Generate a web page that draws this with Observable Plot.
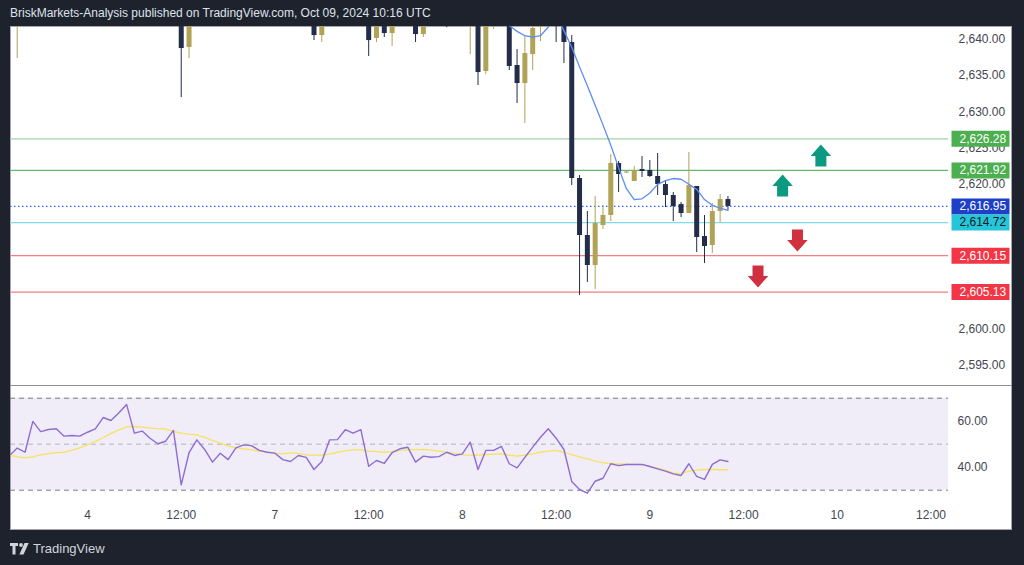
<!DOCTYPE html>
<html><head><meta charset="utf-8">
<script src="https://cdn.jsdelivr.net/npm/d3@7"></script>
<script src="https://cdn.jsdelivr.net/npm/@observablehq/plot@0.6"></script>
<style>
html,body{margin:0;padding:0;}
body{width:1024px;height:565px;background:#1e222d;position:relative;overflow:hidden;font-family:"Liberation Sans",Arial,sans-serif;}
#hdr{position:absolute;left:10px;top:6px;color:#dfe2ea;font-size:12px;line-height:14px;white-space:nowrap;}
#panel{position:absolute;left:10px;top:26px;width:1002px;height:504px;background:#fff;box-sizing:border-box;border:1px solid #a4a7b0;}
#price{position:absolute;left:10px;top:26px;}
#sep{position:absolute;left:10px;top:385px;width:1002px;height:1px;background:#8a8d96;}
#rsi{position:absolute;left:10px;top:386px;}
#foot{position:absolute;left:10px;top:541px;display:flex;align-items:center;color:#d1d4dc;font-size:13px;}
svg{overflow:visible}
</style></head>
<body>
<div id="hdr">BriskMarkets-Analysis published on TradingView.com, Oct 09, 2024 10:16 UTC</div>
<div id="panel"></div>
<div id="price"></div>
<div id="sep"></div>
<div id="rsi"></div>
<div id="foot"><svg width="20" height="12" viewBox="0 0 20 12" style="margin-right:3px"><path d="M0 0h8v3H5.5v8.5h-3V3H0z" fill="#d1d4dc"/><circle cx="11" cy="2" r="1.9" fill="#d1d4dc"/><path d="M14.5 0h4.2l-5.2 11.5H9.4z" fill="#d1d4dc"/></svg><span>TradingView</span></div>
<script>
// ---- data ----
const candleT = [-9,12,13,29,30,36,37,38,39,42,43,46,49,50,51,52,53,54,55,56,57,58,59,60,61,62,63,64,65,66,67,68,69,70,71,72,73,74,75,76,77,78,79,80,81,82];
const opens  = [2643.2,2645.0,2638.87,2644.0,2640.52,2644.5,2640.11,2644.0,2640.80,2644.2,2640.66,2643.5,2643.0,2644.5,2635.56,2642.5,2642.6,2643.5,2636.39,2633.90,2637.90,2641.63,2642.0,2644.0,2643.0,2639.56,2620.80,2612.94,2608.80,2614.32,2615.70,2622.87,2621.55,2620.39,2622.04,2621.90,2621.08,2619.97,2618.46,2617.21,2615.97,2619.70,2612.80,2611.56,2616.25,2617.90];
const highs  = [2645.0,2646.0,2645.5,2645.0,2644.0,2645.0,2644.0,2644.5,2644.5,2645.0,2644.0,2644.0,2645.0,2645.0,2643.5,2644.0,2644.0,2644.0,2638.59,2640.39,2643.0,2644.0,2644.0,2645.0,2644.0,2640.52,2621.21,2616.25,2618.32,2617.08,2624.11,2623.15,2621.75,2622.46,2623.83,2623.28,2624.25,2620.52,2618.87,2617.49,2624.39,2619.70,2615.70,2617.35,2618.59,2618.32];
const lows   = [2637.35,2631.97,2637.35,2639.83,2639.56,2637.63,2639.56,2640.25,2639.01,2639.56,2640.25,2641.60,2637.90,2633.63,2635.14,2641.35,2641.63,2635.70,2631.14,2628.39,2635.70,2639.70,2641.80,2639.56,2636.66,2619.83,2604.66,2606.46,2605.49,2613.77,2614.87,2618.87,2621.50,2620.39,2620.94,2620.94,2618.46,2616.80,2614.87,2615.42,2615.97,2610.59,2609.07,2610.46,2614.73,2616.39];
const closes = [2644.5,2638.73,2644.8,2640.52,2643.0,2639.83,2643.5,2640.80,2643.8,2640.66,2643.0,2642.5,2644.0,2635.42,2643.0,2643.2,2643.4,2636.25,2633.90,2638.04,2641.49,2643.0,2643.5,2642.2,2639.56,2620.80,2612.94,2608.80,2614.59,2615.70,2622.87,2621.35,2621.70,2621.90,2621.77,2621.08,2619.97,2618.46,2616.94,2615.97,2619.83,2612.66,2611.42,2616.25,2617.90,2616.95];

const maT    = [53,54,55,56,57,58,59,60,61,62,63,64,65,66,67,68,69,70,71,72,73,74,75,76,77,78,79,80,81,82];
const maVals = [2643.5,2641.9,2641.1,2640.5,2640.3,2640.5,2641.7,2643.2,2641.2,2638.9,2636.2,2633.6,2630.9,2628.2,2625.4,2622.3,2619.4,2617.9,2618.0,2618.8,2620.0,2620.5,2620.8,2620.7,2620.0,2619.3,2617.9,2617.1,2616.7,2616.4];

const levelPrices = [2626.28, 2621.92, 2616.95, 2614.72, 2610.15, 2605.13];
const levelLine   = ["#9fd4a4", "#63bb6b", "#2962ff", "#7fdce8", "#f77c80", "#f77c80"];
const levelBox    = ["#4caf50", "#4caf50", "#1e3fc6", "#26c6da", "#f23645", "#f23645"];
const levelText   = ["#ffffff", "#ffffff", "#ffffff", "#131722", "#ffffff", "#ffffff"];
const levelDash   = [null, null, "1.5,2.5", null, null, null];

const priceTicks = [2595, 2600, 2605, 2610, 2615, 2620, 2625, 2630, 2635, 2640];

const arrowT     = [93.9, 89.0, 90.9, 85.85];
const arrowPrice = [2623.97, 2619.83, 2612.25, 2607.28];
const arrowDir   = ["up", "up", "down", "down"];

const rsiStart = -10;
const rsiVals = [45.0,48.3,46.5,59.9,55.5,56.4,56.7,53.5,53.8,53.5,55.2,56.7,61.6,60.3,63.6,67.3,54.8,55.7,52.6,50.2,51.3,56.0,32.3,46.3,51.9,47.7,42.2,46.1,43.3,48.4,49.7,49.4,47.3,46.5,46.1,43.3,42.5,45.1,44.3,39.0,42.5,51.9,52.0,56.3,54.8,56.3,40.4,42.9,41.7,46.3,48.0,48.7,42.2,44.8,44.3,44.6,46.5,45.1,45.8,50.9,39.0,47.3,47.3,49.1,41.5,39.7,44.3,48.7,53.0,56.7,52.6,47.7,33.8,30.3,28.7,33.9,35.2,41.5,40.7,41.2,41.2,41.2,40.3,39.3,38.3,37.1,36.4,41.5,36.0,34.7,41.2,43.2,42.5];
const rsiMaVals = [45.2,44.6,44.1,44.5,45.4,45.9,46.3,46.5,47.3,48.4,49.7,51.2,52.8,54.6,56.2,57.5,57.7,57.4,57.1,56.8,56.6,55.6,54.8,54.4,54.1,53.0,51.7,50.5,49.3,48.4,48.0,47.5,47.0,46.6,46.0,45.8,46.2,46.0,45.4,45.1,45.3,45.7,46.5,47.1,47.5,47.6,47.0,46.8,46.5,46.8,47.3,47.5,47.6,47.7,47.4,47.0,46.5,46.0,45.4,45.1,45.3,45.5,45.7,45.8,45.2,44.8,45.3,45.8,46.5,47.0,47.3,46.5,45.5,44.5,43.6,42.6,42.0,41.5,41.4,41.3,41.2,41.1,40.4,39.6,38.6,37.5,37.1,38.3,38.7,39.0,39.0,38.9,38.9];
const rsiBands = [30, 50, 70];
const rsiTicks = [40, 60];

const timeTicks  = [0, 12, 24, 36, 48, 60, 72, 84, 96, 108];
const timeLabels = ["4", "12:00", "7", "12:00", "8", "12:00", "9", "12:00", "10", "12:00"];

// ---- tables ----
const candles = candleT.map((t, i) => ({t, open: opens[i], high: highs[i], low: lows[i], close: closes[i]}));
const ma = maT.map((t, i) => ({t, v: maVals[i]}));
const levels = levelPrices.map((p, i) => ({p, line: levelLine[i], box: levelBox[i], txt: levelText[i], dash: levelDash[i]}));
const arrows = arrowT.map((t, i) => ({t, p: arrowPrice[i], dir: arrowDir[i]}));
const rsi = rsiVals.map((v, i) => ({t: rsiStart + i, v}));
const rsiMa = rsiMaVals.map((v, i) => ({t: rsiStart + i, v}));

const BULL = "#b0a257", BEAR = "#232d48";
const xDomain = [-9.86, 110.24];
const font = '"Liberation Sans", Arial, sans-serif';
const fmt2 = d3.format(",.2f");

const arrowUp = {draw(ctx, size) {
  const r = Math.sqrt(size / Math.PI);
  ctx.moveTo(0, -r); ctx.lineTo(0.93 * r, 0.05 * r); ctx.lineTo(0.5 * r, 0.05 * r);
  ctx.lineTo(0.5 * r, r); ctx.lineTo(-0.5 * r, r); ctx.lineTo(-0.5 * r, 0.05 * r);
  ctx.lineTo(-0.93 * r, 0.05 * r); ctx.closePath();
}};
const arrowDown = {draw(ctx, size) {
  const r = Math.sqrt(size / Math.PI);
  ctx.moveTo(0, r); ctx.lineTo(0.93 * r, -0.05 * r); ctx.lineTo(0.5 * r, -0.05 * r);
  ctx.lineTo(0.5 * r, -r); ctx.lineTo(-0.5 * r, -r); ctx.lineTo(-0.5 * r, -0.05 * r);
  ctx.lineTo(-0.93 * r, -0.05 * r); ctx.closePath();
}};
const boxSym = {draw(ctx) { ctx.rect(-29, -8, 58, 16); }};

const bull = d => d.close >= d.open;

const pricePlot = Plot.plot({
  width: 1002, height: 360,
  marginLeft: 0, marginRight: 64, marginTop: 0, marginBottom: 0,
  x: {domain: xDomain, axis: null},
  y: {domain: [2592.11, 2641.77], axis: null},
  style: {background: "transparent", fontFamily: font, fontSize: "12px", overflow: "visible"},
  marks: [
    Plot.axisY(priceTicks, {anchor: "right", label: null, tickSize: 0, tickPadding: 10, tickFormat: fmt2, color: "#434651", fontSize: 12}),
    Plot.ruleY(levels.filter(d => !d.dash), {y: "p", stroke: "line", strokeWidth: 1.2}),
    Plot.ruleY(levels.filter(d => d.dash), {y: "p", stroke: "line", strokeWidth: 1.2, strokeDasharray: "1.5,2.5"}),
    Plot.ruleX(candles, {x: "t", y1: "low", y2: "high", stroke: d => bull(d) ? BULL : BEAR, strokeWidth: 1, clip: true}),
    Plot.ruleX(candles, {x: "t", y1: "open", y2: "close", stroke: d => bull(d) ? BULL : BEAR, strokeWidth: 5, clip: true}),
    Plot.line(ma, {x: "t", y: "v", stroke: "#5b8df2", strokeWidth: 1.3, clip: true}),
    Plot.dot(arrows.filter(d => d.dir === "up"), {x: "t", y: "p", r: 11, symbol: arrowUp, fill: "#0b9981", stroke: "none"}),
    Plot.dot(arrows.filter(d => d.dir === "down"), {x: "t", y: "p", r: 11, symbol: arrowDown, fill: "#d0303f", stroke: "none"}),
    Plot.dot(levels, {y: "p", frameAnchor: "right", dx: 32, symbol: boxSym, r: 5, fill: "box", stroke: "none"}),
    Plot.text(levels, {y: "p", text: d => fmt2(d.p), frameAnchor: "right", dx: 11, textAnchor: "start", fill: "txt", fontSize: 12})
  ]
});
document.getElementById("price").append(pricePlot);

const rsiPlot = Plot.plot({
  width: 1002, height: 144,
  marginLeft: 0, marginRight: 64, marginTop: 0, marginBottom: 30,
  x: {domain: xDomain, axis: null},
  y: {domain: [25.52, 75.09], axis: null},
  style: {background: "transparent", fontFamily: font, fontSize: "12px", overflow: "visible"},
  marks: [
    Plot.rect([0], {y1: rsiBands[0], y2: rsiBands[2], fill: "#7e57c2", fillOpacity: 0.11}),
    Plot.ruleY([rsiBands[0], rsiBands[2]], {stroke: "#787b86", strokeWidth: 1, strokeDasharray: "5,4"}),
    Plot.ruleY([rsiBands[1]], {stroke: "#787b86", strokeOpacity: 0.5, strokeWidth: 1, strokeDasharray: "5,4"}),
    Plot.line(rsiMa, {x: "t", y: "v", stroke: "#f7e262", strokeWidth: 1.3, clip: true}),
    Plot.line(rsi, {x: "t", y: "v", stroke: "#8c6dd0", strokeWidth: 1.4, clip: true}),
    Plot.axisY(rsiTicks, {anchor: "right", label: null, tickSize: 0, tickPadding: 9, tickFormat: d3.format(".2f"), color: "#434651", fontSize: 12}),
    Plot.axisX(timeTicks, {anchor: "bottom", label: null, tickSize: 0, tickPadding: 10, tickFormat: d => timeLabels[timeTicks.indexOf(d)], color: "#434651", fontSize: 12})
  ]
});
document.getElementById("rsi").append(rsiPlot);
</script>
</body></html>
